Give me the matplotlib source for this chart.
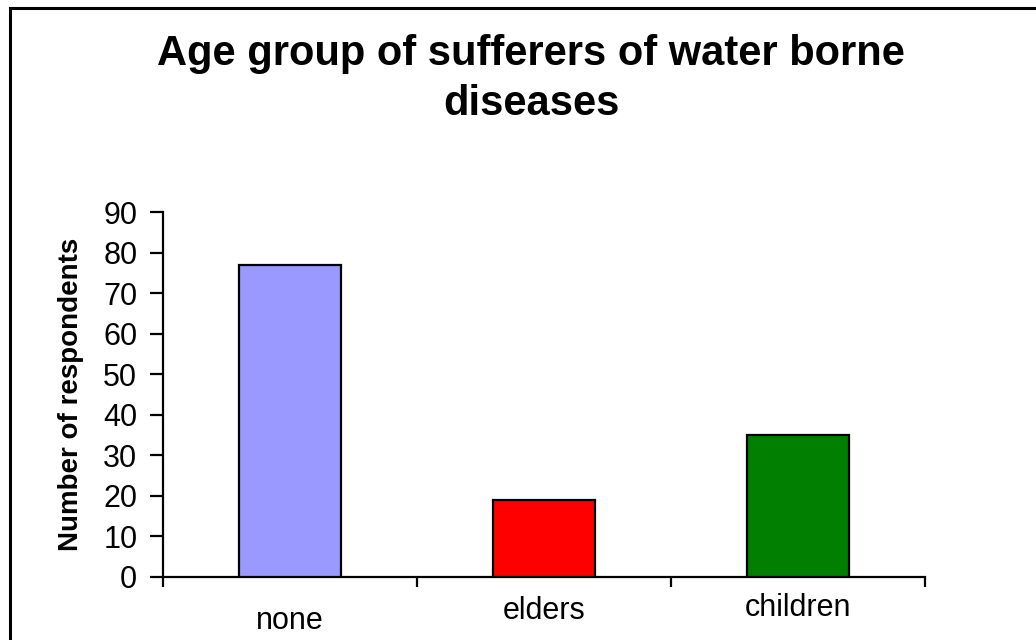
import matplotlib
matplotlib.use("Agg")
import matplotlib.pyplot as plt
from matplotlib.transforms import ScaledTranslation
from matplotlib.patches import Rectangle
import numpy as np

categories = ["none", "elders", "children"]
values = [77, 19, 35]
colors = ["#9999FF", "#FF0000", "#007F00"]
yticks = list(range(0, 100, 10))
title = "Age group of sufferers of water borne\ndiseases"
ylabel = "Number of respondents"

plt.rcParams['font.family'] = ['Liberation Sans', 'DejaVu Sans']

fig = plt.figure(figsize=(10.36, 6.4), dpi=100)
ax = fig.add_axes([163/1036, 1-577/640, (925-163)/1036, (577-212)/640])

x = np.arange(len(categories))
ax.bar(x, values, width=0.4, color=colors, edgecolor="black", linewidth=1.6, zorder=3)

ax.set_xlim(-0.5, len(categories) - 0.5)
ax.set_ylim(0, 90)
ax.set_yticks(yticks)
ax.set_yticklabels([str(v) for v in yticks], fontsize=22)

ax.set_xticks(np.arange(-0.5, len(categories), 1.0))
ax.set_xticklabels([])
ax.set_xticks(x, minor=True)
ax.set_xticklabels(categories, minor=True, fontsize=22)
ax.tick_params(axis='x', which='minor', length=0, pad=17)
ax.tick_params(axis='x', which='major', length=7, width=1.6, direction='out')
ax.tick_params(axis='y', length=9.5, width=1.6, direction='out', pad=9)

offsets = [-0.05, 0.05, 0.08]
for lbl, dy in zip(ax.get_xticklabels(minor=True), offsets):
    lbl.set_transform(lbl.get_transform() + ScaledTranslation(0, dy, fig.dpi_scale_trans))

for s in ["top", "right"]:
    ax.spines[s].set_visible(False)
for s in ["left", "bottom"]:
    ax.spines[s].set_linewidth(1.6)

ax.set_ylabel(ylabel, fontsize=20, fontweight='bold', labelpad=14)

fig.text(531/1036, 1-79/640, title, ha='center', va='center', fontsize=30,
         fontweight='bold', linespacing=1.3)

fig.patches.append(Rectangle((9.5/1036, -0.05), 1.1, 1.05 - 7.5/640,
                             transform=fig.transFigure, fill=False,
                             edgecolor='black', linewidth=2.2))

fig.savefig("out.png", dpi=100)
